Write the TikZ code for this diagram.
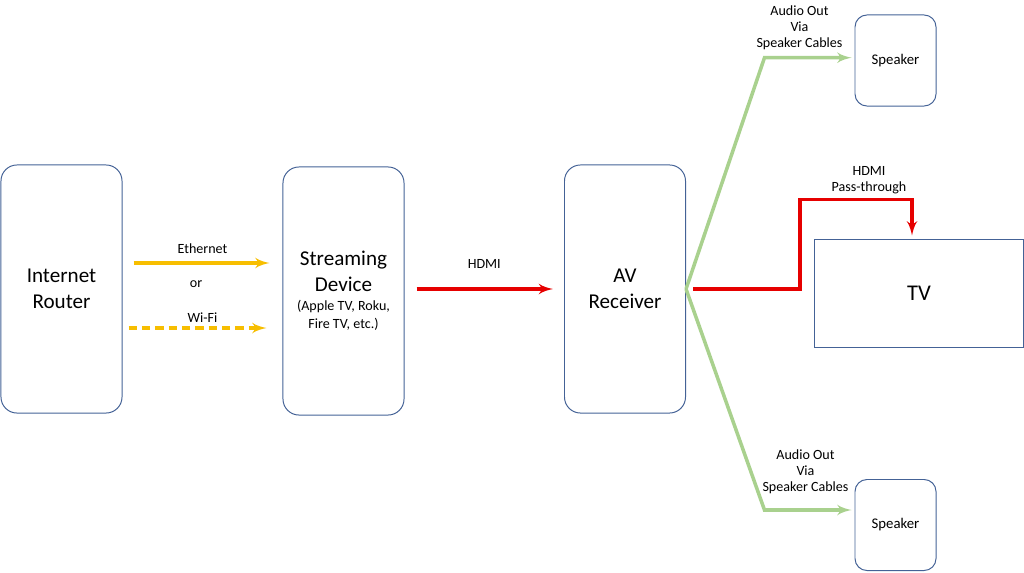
\documentclass[tikz,border=0pt]{standalone}
\usepackage{fontspec}
\setmainfont{Carlito}
\usepackage{tikz}
\usetikzlibrary{arrows}

\definecolor{boxline}{RGB}{68,98,150}
\definecolor{netyellow}{RGB}{247,190,0}
\definecolor{hdmired}{RGB}{230,0,0}
\definecolor{audiogreen}{RGB}{169,209,142}

\begin{document}
\begin{tikzpicture}[x=0.025cm,y=-0.025cm,>=latex',
                    main node/.style={rectangle,rounded corners=0.4cm,draw=boxline,line width=0.7pt,
                      minimum width=3.025cm,minimum height=6.2cm,align=center,font=\fontsize{15}{18.5}\selectfont},
                    speaker node/.style={rectangle,rounded corners=0.3cm,draw=boxline,line width=0.7pt,
                      minimum width=2.025cm,minimum height=2.275cm,font=\fontsize{10.5}{12}\selectfont},
                    label node/.style={align=center,font=\fontsize{10}{11.5}\selectfont},
                    net/.style={->,draw=netyellow,line width=2.5pt},
                    hdmi/.style={->,draw=hdmired,line width=2.5pt},
                    audio/.style={->,draw=audiogreen,line width=2.5pt}]

  \useasboundingbox (0,0) rectangle (1024,572);

  \node[main node] (R) at (61.5,289) {Internet\\Router};
  \node[main node] (S) at (343.5,291) {Streaming\\Device\\[-5pt]{\fontsize{10}{11.5}\selectfont (Apple TV, Roku,}\\[-5.5pt]{\fontsize{10}{11.5}\selectfont Fire TV, etc.)}};
  \node[main node] (AV) at (625,289) {AV\\Receiver};
  \node[speaker node] (SP1) at (895.5,60.5) {Speaker};
  \node[speaker node] (SP2) at (895.5,525) {Speaker};
  \node[draw=boxline,line width=0.7pt,minimum width=5.2cm,minimum height=2.675cm,
        font=\fontsize{16}{19}\selectfont] (TV) at (919,293.5) {TV};

  \node[label node] (or) at (196,284) {or};
  \node[label node] (PT) at (869,180) {HDMI\\Pass-through};

  % router to streaming device
  \draw[net,shorten <=0.275cm,shorten >=0.325cm] ([yshift=0.65cm]R.east) -- node[label node,above=2pt] {Ethernet} ([yshift=0.65cm]S.west |- R.east);
  \draw[net,dash pattern=on 6pt off 3.5pt,shorten <=0.15cm,shorten >=0.4cm] ([yshift=-0.975cm]R.east) -- node[label node,above=-1pt] {Wi-Fi} ([yshift=-0.975cm]S.west |- R.east);

  % streaming device to receiver
  \draw[hdmi,shorten <=0.3cm,shorten >=0.275cm] (S.east |- AV.west) -- node[label node,above=10pt] {HDMI} (AV.west);

  % receiver to speakers
  \draw[audio,shorten >=0.075cm] (AV.east) -- ([xshift=-2.25cm,yshift=0.07cm]SP1.west)
      -- node[label node,above=1pt,xshift=-0.25cm] {Audio Out\\Via\\Speaker Cables} ([yshift=0.07cm]SP1.west);
  \draw[audio,shorten >=0.075cm] (AV.east) -- ([xshift=-2.25cm,yshift=0.375cm]SP2.west)
      -- node[label node,above=7pt,xshift=-0.1cm] {Audio Out\\Via\\Speaker Cables} ([yshift=0.375cm]SP2.west);

  % pass-through to tv
  \draw[hdmi,shorten >=0.1cm] ([xshift=0.175cm]AV.east) -- ++(107,0)
      |- ([xshift=-0.175cm,yshift=1cm]TV.north) -- ([xshift=-0.175cm]TV.north);
\end{tikzpicture}
\end{document}
